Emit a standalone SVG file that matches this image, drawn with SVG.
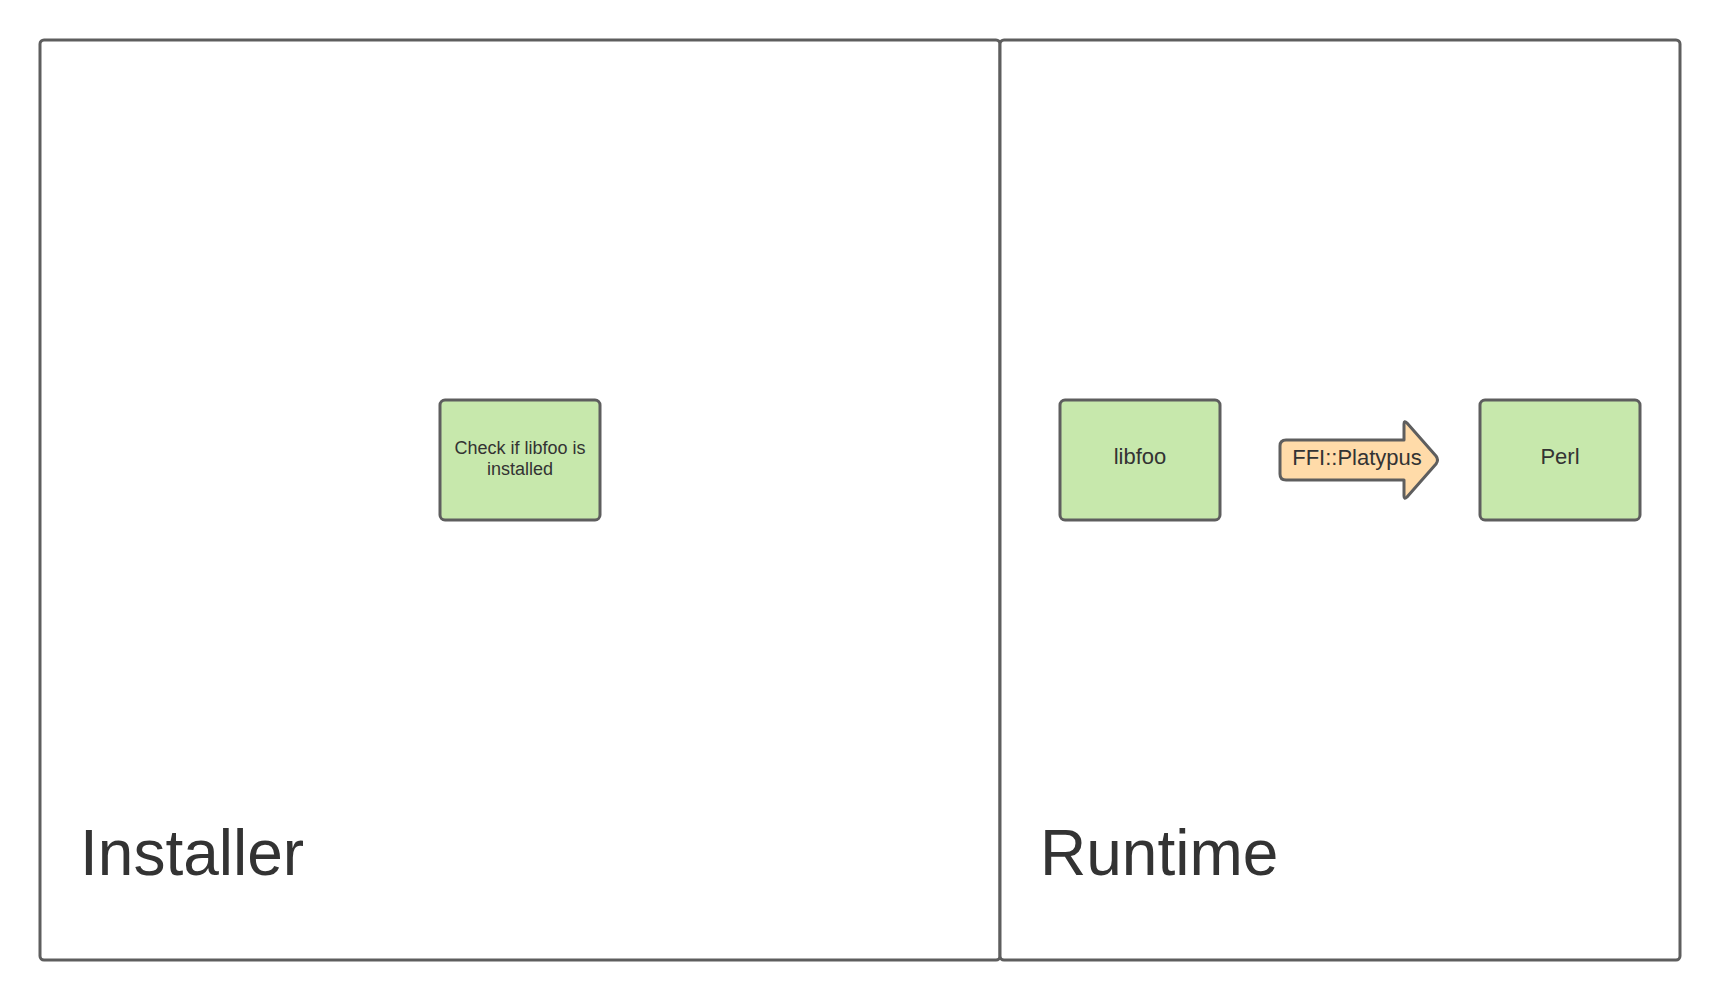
<svg xmlns="http://www.w3.org/2000/svg" width="1720" height="1000" viewBox="0 0 1720 1000">
<style>
.frame{fill:#ffffff;stroke:#5e5e5e;stroke-width:3}
.node{fill:#c7e8ac;stroke:#5e5e5e;stroke-width:3}
.arrow{fill:#ffdba9;stroke:#5e5e5e;stroke-width:3;stroke-linejoin:round}
text{font-family:"Liberation Sans",Arial,sans-serif;fill:#333333}
.big{font-size:64px}
.lbl{font-size:22px;text-anchor:middle}
.small{font-size:18px;text-anchor:middle}
</style>
<rect width="1720" height="1000" fill="#ffffff"/>
<g id="installer">
<rect class="frame" x="40" y="40" width="960" height="920" rx="4"/>
<text class="big" x="80" y="875">Installer</text>
</g>
<g id="runtime">
<rect class="frame" x="1000" y="40" width="680" height="920" rx="4"/>
<text class="big" x="1040" y="875">Runtime</text>
</g>
<g id="check">
<rect class="node" x="440" y="400" width="160" height="120" rx="5"/>
<text class="small" x="520" y="454">Check if libfoo is</text>
<text class="small" x="520" y="475">installed</text>
</g>
<g id="libfoo">
<rect class="node" x="1060" y="400" width="160" height="120" rx="5"/>
<text class="lbl" x="1140" y="464">libfoo</text>
</g>
<g id="perl">
<rect class="node" x="1480" y="400" width="160" height="120" rx="5"/>
<text class="lbl" x="1560" y="464">Perl</text>
</g>
<g id="connectors">
<g id="ffi">
<path class="arrow" d="M1286,440 H1404 V424 Q1404,420 1407,423 L1436,456 Q1439,460 1436,464 L1407,497 Q1404,500 1404,496 V480 H1286 Q1280,480 1280,474 V446 Q1280,440 1286,440 Z"/>
<text class="lbl" x="1357" y="465">FFI::Platypus</text>
</g>
</g>
</svg>
